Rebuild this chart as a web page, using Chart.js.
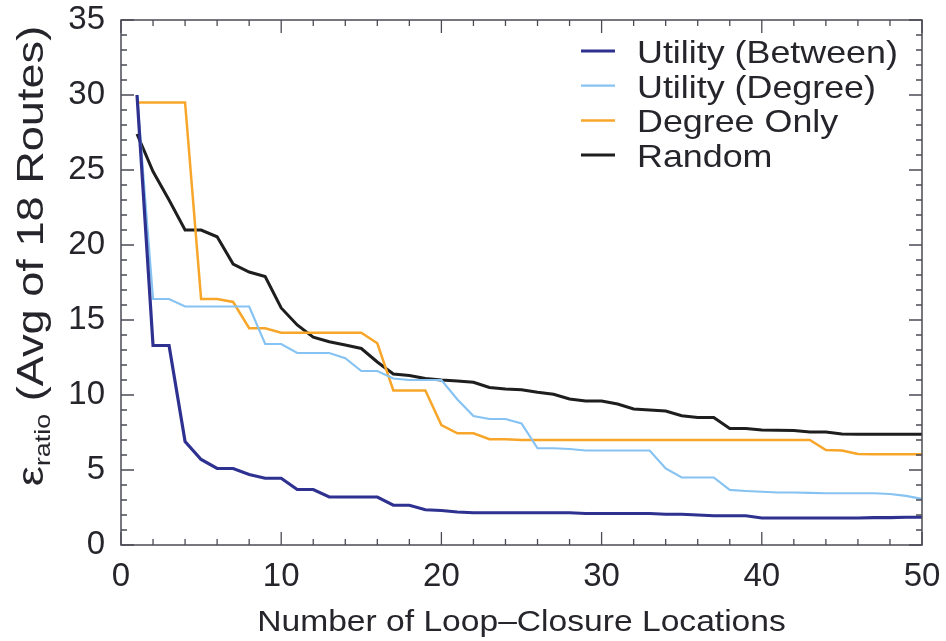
<!DOCTYPE html>
<html>
<head>
<meta charset="utf-8">
<script src="https://cdn.jsdelivr.net/npm/chart.js@4"></script>
<style>
  html, body { margin: 0; padding: 0; background: #fff; }
  #wrap { width: 946px; height: 641px; }
</style>
</head>
<body>
<div id="wrap"><canvas id="lineChart" width="946" height="641"></canvas></div>
<script>
const closures = [1,2,3,4,5,6,7,8,9,10,11,12,13,14,15,16,17,18,19,20,21,22,23,24,25,
  26,27,28,29,30,31,32,33,34,35,36,37,38,39,40,41,42,43,44,45,46,47,48,49,50];

const utilityBetween = [30.0,13.3,13.3,6.9,5.7,5.1,5.1,4.7,4.45,4.45,3.7,3.7,3.2,3.2,3.2,3.2,2.65,2.65,2.35,2.3,
  2.2,2.15,2.15,2.15,2.15,2.15,2.15,2.15,2.1,2.1,2.1,2.1,2.1,2.05,2.05,2.0,1.95,1.95,1.95,1.8,
  1.8,1.8,1.8,1.8,1.8,1.8,1.82,1.82,1.85,1.85];

const utilityDegree = [30.0,16.4,16.4,15.9,15.9,15.9,15.9,15.9,13.4,13.4,12.8,12.8,12.8,12.45,11.6,11.6,11.1,11.0,11.0,11.0,
  9.7,8.6,8.4,8.4,8.1,6.45,6.45,6.4,6.3,6.3,6.3,6.3,6.3,5.1,4.5,4.5,4.5,3.67,3.6,3.55,
  3.5,3.5,3.48,3.45,3.45,3.45,3.45,3.4,3.27,3.07];

const degreeOnly = [29.5,29.5,29.5,29.5,16.4,16.4,16.2,14.45,14.45,14.15,14.15,14.15,14.15,14.15,14.15,13.45,10.3,10.3,10.3,8.0,
  7.45,7.45,7.05,7.05,7.0,7.0,7.0,7.0,7.0,7.0,7.0,7.0,7.0,7.0,7.0,7.0,7.0,7.0,7.0,7.0,
  7.0,7.0,7.0,6.33,6.3,6.07,6.05,6.05,6.05,6.05];

const random = [27.4,24.9,23.0,21.0,21.0,20.55,18.73,18.2,17.9,15.8,14.67,13.85,13.55,13.33,13.1,12.2,11.4,11.3,11.1,11.0,
  10.93,10.85,10.5,10.4,10.35,10.18,10.05,9.73,9.6,9.6,9.4,9.07,9.0,8.93,8.62,8.5,8.5,7.76,7.76,7.67,
  7.65,7.63,7.53,7.53,7.4,7.38,7.38,7.38,7.38,7.38];

const seriesNames = ["Utility (Between)", "Utility (Degree)", "Degree Only", "Random"];
const xTicks = [0, 10, 20, 30, 40, 50];
const yTicks = [0, 5, 10, 15, 20, 25, 30, 35];

const FONT = '"Liberation Sans", Arial, Helvetica, sans-serif';
const TEXT = "#25252b";
const AXIS = "#4b4b55";

function points(values) {
  return values.map((v, i) => ({ x: closures[i], y: v }));
}

// stretched text, the original font is a bit wider than Arial
function wideText(ctx, str, x, y, sx) {
  ctx.save();
  ctx.translate(x, y);
  ctx.scale(sx, 1);
  ctx.fillText(str, 0, 0);
  ctx.restore();
}

const framePlugin = {
  id: "frame",
  afterDraw(chart) {
    const ctx = chart.ctx;
    const area = chart.chartArea;
    const xs = chart.scales.x;
    const ys = chart.scales.y;

    ctx.save();
    ctx.strokeStyle = AXIS;
    ctx.lineWidth = 1.5;
    ctx.strokeRect(area.left, area.top, area.right - area.left, area.bottom - area.top);

    // inward ticks on all four sides
    ctx.lineWidth = 1.3;
    ctx.beginPath();
    for (let v = 0; v <= 50; v += 2) {
      const px = xs.getPixelForValue(v);
      const len = v % 10 === 0 ? 13 : 6;
      ctx.moveTo(px, area.bottom); ctx.lineTo(px, area.bottom - len);
      ctx.moveTo(px, area.top); ctx.lineTo(px, area.top + len);
    }
    for (let v = 0; v <= 35; v += 1) {
      const py = ys.getPixelForValue(v);
      const len = v % 5 === 0 ? 13 : 6;
      ctx.moveTo(area.left, py); ctx.lineTo(area.left + len, py);
      ctx.moveTo(area.right, py); ctx.lineTo(area.right - len, py);
    }
    ctx.stroke();

    // legend inside the top right corner
    ctx.fillStyle = TEXT;
    ctx.font = "32px " + FONT;
    ctx.textBaseline = "alphabetic";
    chart.data.datasets.forEach((ds, i) => {
      const base = 63 + i * 34.7;
      ctx.strokeStyle = ds.borderColor;
      ctx.lineWidth = ds.borderWidth;
      ctx.beginPath();
      ctx.moveTo(581, base - 12);
      ctx.lineTo(615, base - 12);
      ctx.stroke();
      wideText(ctx, ds.label, 637, base, 1.12);
    });

    // x title
    ctx.font = "30px " + FONT;
    const xTitle = "Number of Loop\u2013Closure Locations";
    const w = ctx.measureText(xTitle).width * 1.12;
    wideText(ctx, xTitle, (area.left + area.right) / 2 - w / 2, 631, 1.12);

    // y title with subscript, rotated
    ctx.save();
    ctx.translate(43, 256);
    ctx.rotate(-Math.PI / 2);
    ctx.scale(1.22, 1);
    const big = "37px " + FONT, small = "22px " + FONT;
    ctx.font = big;
    const w1 = ctx.measureText("\u03b5").width;
    const w3 = ctx.measureText(" (Avg of 18 Routes)").width;
    ctx.font = small;
    const w2 = ctx.measureText("ratio").width;
    let cx = -(w1 + w2 + w3) / 2;
    ctx.font = big;
    ctx.fillText("\u03b5", cx, 0);
    cx += w1;
    ctx.font = small;
    ctx.fillText("ratio", cx, 7);
    cx += w2;
    ctx.font = big;
    ctx.fillText(" (Avg of 18 Routes)", cx, 0);
    ctx.restore();

    ctx.restore();
  }
};

const ctx = document.getElementById("lineChart").getContext("2d");

new Chart(ctx, {
  type: "line",
  data: {
    datasets: [
      { label: seriesNames[0], data: points(utilityBetween), borderColor: "#2e3190", borderWidth: 3.2 },
      { label: seriesNames[1], data: points(utilityDegree), borderColor: "#86c3f2", borderWidth: 2.2 },
      { label: seriesNames[2], data: points(degreeOnly), borderColor: "#f7a62a", borderWidth: 2.5 },
      { label: seriesNames[3], data: points(random), borderColor: "#1e1e1e", borderWidth: 3 }
    ]
  },
  options: {
    responsive: false,
    animation: false,
    layout: { padding: { top: 20, right: 24, left: 0, bottom: 0 } },
    elements: { point: { radius: 0 }, line: { tension: 0 } },
    scales: {
      x: {
        type: "linear",
        min: 0,
        max: 50,
        afterFit: (scale) => {
          scale.height = 96;
          scale.paddingLeft = 0;
          scale.paddingRight = 0;
        },
        afterBuildTicks: (scale) => { scale.ticks = xTicks.map(v => ({ value: v })); },
        grid: { display: false, drawTicks: false },
        border: { display: false },
        ticks: { color: TEXT, font: { family: FONT, size: 33 }, padding: 12, maxRotation: 0 }
      },
      y: {
        type: "linear",
        min: 0,
        max: 35,
        afterFit: (scale) => {
          scale.width = 121;
          scale.paddingTop = 0;
          scale.paddingBottom = 0;
        },
        afterBuildTicks: (scale) => { scale.ticks = yTicks.map(v => ({ value: v })); },
        grid: { display: false, drawTicks: false },
        border: { display: false },
        ticks: { color: TEXT, font: { family: FONT, size: 33 }, padding: 16 }
      }
    },
    plugins: {
      legend: { display: false },
      tooltip: { enabled: false }
    }
  },
  plugins: [framePlugin]
});
</script>
</body>
</html>
